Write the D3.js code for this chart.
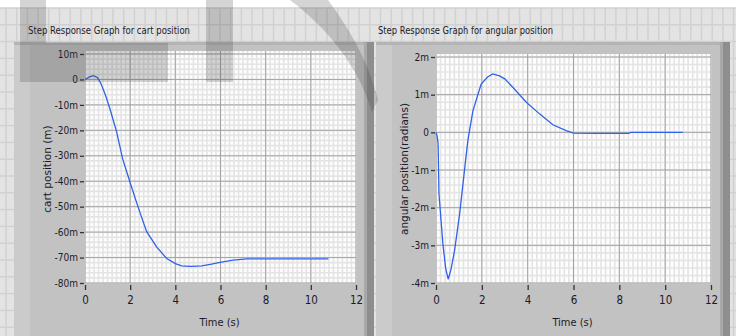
<!DOCTYPE html>
<html>
<head>
<meta charset="utf-8">
<script src="https://cdn.jsdelivr.net/npm/d3@7"></script>
<style>
  body { margin: 0; background: #ffffff; }
  svg { display: block; }
  .tick text { font-family: "DejaVu Sans Condensed", sans-serif; font-size: 10px; fill: #1a1a2a; }
</style>
</head>
<body>
<div id="chart"></div>
<script>
// step response of the cart (milli-metres) and of the pendulum angle (milli-radians)
var cartTime = [0, 0.2, 0.37, 0.55, 0.7, 0.9, 1.1, 1.4, 1.67, 2.0, 2.29, 2.5, 2.73, 3.17, 3.62, 4.0, 4.28, 4.7, 5.17, 5.6, 5.98, 6.56, 7.16, 8.0, 9.0, 10.78];
var cartPos = [0, 1.0, 1.5, 0.8, -1.5, -6, -11.4, -20.6, -31.3, -40.6, -48.5, -54, -59.8, -65.8, -70.4, -72.4, -73.3, -73.5, -73.3, -72.6, -71.9, -71.0, -70.5, -70.5, -70.5, -70.5];

var angTime = [0, 0.05, 0.09, 0.13, 0.3, 0.42, 0.53, 0.65, 0.81, 1.03, 1.29, 1.39, 1.61, 1.97, 2.25, 2.48, 2.77, 3.0, 3.36, 3.94, 4.52, 5.1, 5.68, 6.0, 7.0, 8.4, 8.5, 10.77];
var angPos = [0, -0.1, -0.3, -1.63, -2.96, -3.6, -3.9, -3.65, -3.14, -2.17, -0.75, -0.22, 0.57, 1.28, 1.47, 1.55, 1.5, 1.42, 1.19, 0.8, 0.49, 0.2, 0.045, -0.02, -0.03, -0.03, 0, 0];

var timeTicks = [0, 2, 4, 6, 8, 10, 12];
var cartTicks = [10, 0, -10, -20, -30, -40, -50, -60, -70, -80];
var angTicks = [2, 1, 0, -1, -2, -3, -4];

const svgDimentions = { width: 736, height: 336 };

var svg = d3.select("#chart").append("svg")
    .attr("width", svgDimentions.width)
    .attr("height", svgDimentions.height);

// labview block diagram background
var bg = svg.append("g");
bg.append("rect").attr("x", 0).attr("y", 8).attr("width", 736).attr("height", 328).attr("fill", "#e3e3e3");
for (var gx = 6; gx < 736; gx += 10.7) {
    bg.append("line").attr("x1", gx).attr("x2", gx).attr("y1", 8).attr("y2", 336)
        .attr("stroke", "#d1d1d1").attr("stroke-width", 1.5);
}
for (var gy = 8; gy < 336; gy += 16.8) {
    bg.append("line").attr("x1", 0).attr("x2", 736).attr("y1", gy).attr("y2", gy)
        .attr("stroke", "#d1d1d1").attr("stroke-width", 1.5);
}

// the two front panel frames
function panel(x0, x1) {
    svg.append("rect").attr("x", x0).attr("y", 42).attr("width", x1 - x0).attr("height", 294).attr("fill", "#c2c2c2");
    svg.append("rect").attr("x", x0).attr("y", 42).attr("width", x1 - x0).attr("height", 3).attr("fill", "#b4b4b4");
    svg.append("rect").attr("x", x0).attr("y", 45).attr("width", 16).attr("height", 291).attr("fill", "#cbcbcb");
    svg.append("rect").attr("x", x1 - 7).attr("y", 42).attr("width", 7).attr("height", 294).attr("fill", "#8e8e8e");
    svg.append("rect").attr("x", x1 - 10).attr("y", 42).attr("width", 3).attr("height", 294).attr("fill", "#a8a8a8");
}
panel(14, 374);
panel(376, 730);

function drawGraph(cfg) {
    var g = svg.append("g");

    var scaleX = d3.scaleLinear().domain([0, 12]).range([cfg.left, cfg.right]);
    var scaleY = d3.scaleLinear().domain(cfg.yDomain).range([cfg.bottom, cfg.top]);

    // plot area
    g.append("rect")
        .attr("x", cfg.left).attr("y", cfg.top - 3)
        .attr("width", cfg.right - cfg.left + 1).attr("height", cfg.bottom - cfg.top + 3)
        .attr("fill", "#fdfdfd");

    // minor grid
    var minorX = d3.range(0, 12.001, 0.2);
    var minorY = d3.range(cfg.yDomain[0], cfg.yDomain[1] + 1e-6, cfg.yStep / 5);
    g.selectAll(".minx").data(minorX).enter().append("line")
        .attr("x1", d => scaleX(d)).attr("x2", d => scaleX(d))
        .attr("y1", cfg.top - 3).attr("y2", cfg.bottom)
        .attr("stroke", "#e4e4e4").attr("stroke-width", 1.6);
    g.selectAll(".miny").data(minorY).enter().append("line")
        .attr("x1", cfg.left).attr("x2", cfg.right)
        .attr("y1", d => scaleY(d)).attr("y2", d => scaleY(d))
        .attr("stroke", "#e4e4e4").attr("stroke-width", 1.6);

    // major grid
    g.selectAll(".majx").data(timeTicks).enter().append("line")
        .attr("x1", d => scaleX(d)).attr("x2", d => scaleX(d))
        .attr("y1", cfg.top - 3).attr("y2", cfg.bottom)
        .attr("stroke", "#a4a4a4").attr("stroke-width", 1);
    g.selectAll(".majy").data(cfg.yTicks).enter().append("line")
        .attr("x1", cfg.left).attr("x2", cfg.right)
        .attr("y1", d => scaleY(d)).attr("y2", d => scaleY(d))
        .attr("stroke", "#a4a4a4").attr("stroke-width", 1);

    // axes
    var axisX = d3.axisBottom(scaleX).tickValues(timeTicks).tickSize(5).tickPadding(6);
    var axisY = d3.axisLeft(scaleY).tickValues(cfg.yTicks).tickSize(4).tickPadding(2)
        .tickFormat(d => d === 0 ? "0" : d + "m");

    g.append("g")
        .attr("class", "x axis")
        .attr("transform", "translate(0," + (cfg.bottom + 2) + ")")
        .call(axisX);
    g.append("g")
        .attr("class", "y axis")
        .attr("transform", "translate(" + (cfg.left - 1) + ",0)")
        .call(axisY);
    g.selectAll(".domain").remove();
    g.selectAll(".tick line").attr("stroke", "#333").attr("stroke-width", 1.3);
    g.selectAll(".x.axis .tick text").style("font-size", "11.5px");

    // curve
    var pts = cfg.time.map((t, i) => [t, cfg.values[i]]);
    g.append("path")
        .datum(pts)
        .attr("fill", "none")
        .attr("stroke", "#2f62e6")
        .attr("stroke-width", 1.3)
        .attr("d", d3.line().x(d => scaleX(d[0])).y(d => scaleY(d[1])));

    // labels
    g.append("text")
        .attr("x", cfg.titleX).attr("y", 34)
        .attr("textLength", cfg.titleWidth).attr("lengthAdjust", "spacingAndGlyphs")
        .style("font-family", "'DejaVu Sans Condensed', sans-serif")
        .style("font-size", "11px").attr("fill", "#1a1a2a")
        .text(cfg.title);
    g.append("text")
        .attr("x", (cfg.left + cfg.right) / 2 - 1).attr("y", 326)
        .attr("text-anchor", "middle")
        .style("font-family", "'DejaVu Sans Condensed', sans-serif")
        .style("font-size", "11px").attr("fill", "#1a1a2a")
        .text("Time (s)");
    g.append("text")
        .attr("transform", "translate(" + cfg.yLabelX + "," + 169 + ") rotate(-90)")
        .attr("text-anchor", "middle")
        .style("font-family", "'DejaVu Sans', sans-serif")
        .style("font-size", "10.5px").attr("fill", "#1a1a2a")
        .text(cfg.yLabel);
}

drawGraph({
    left: 85, right: 356, top: 54, bottom: 283,
    yDomain: [-80, 10], yStep: 10, yTicks: cartTicks,
    time: cartTime, values: cartPos,
    title: "Step Response Graph for cart  position", titleX: 28, titleWidth: 162,
    yLabel: "cart position (m)", yLabelX: 51
});
drawGraph({
    left: 436, right: 711, top: 57, bottom: 283,
    yDomain: [-4, 2], yStep: 1, yTicks: angTicks,
    time: angTime, values: angPos,
    title: "Step Response Graph for angular position", titleX: 378, titleWidth: 175,
    yLabel: "angular position(radians)", yLabelX: 408
});

// translucent watermark over the screenshot
var wm = svg.append("g").attr("fill", "rgba(60,60,60,0.22)");
wm.append("rect").attr("x", 20).attr("y", 0).attr("width", 26).attr("height", 43);
wm.append("rect").attr("x", 20).attr("y", 43).attr("width", 148).attr("height", 39);
wm.append("rect").attr("x", 206).attr("y", 0).attr("width", 27).attr("height", 82);
wm.append("path").attr("d", "M290,0 L328,0 C350,30 368,60 378,100 L372,112 C360,70 330,30 290,0 Z");
</script>
</body>
</html>
